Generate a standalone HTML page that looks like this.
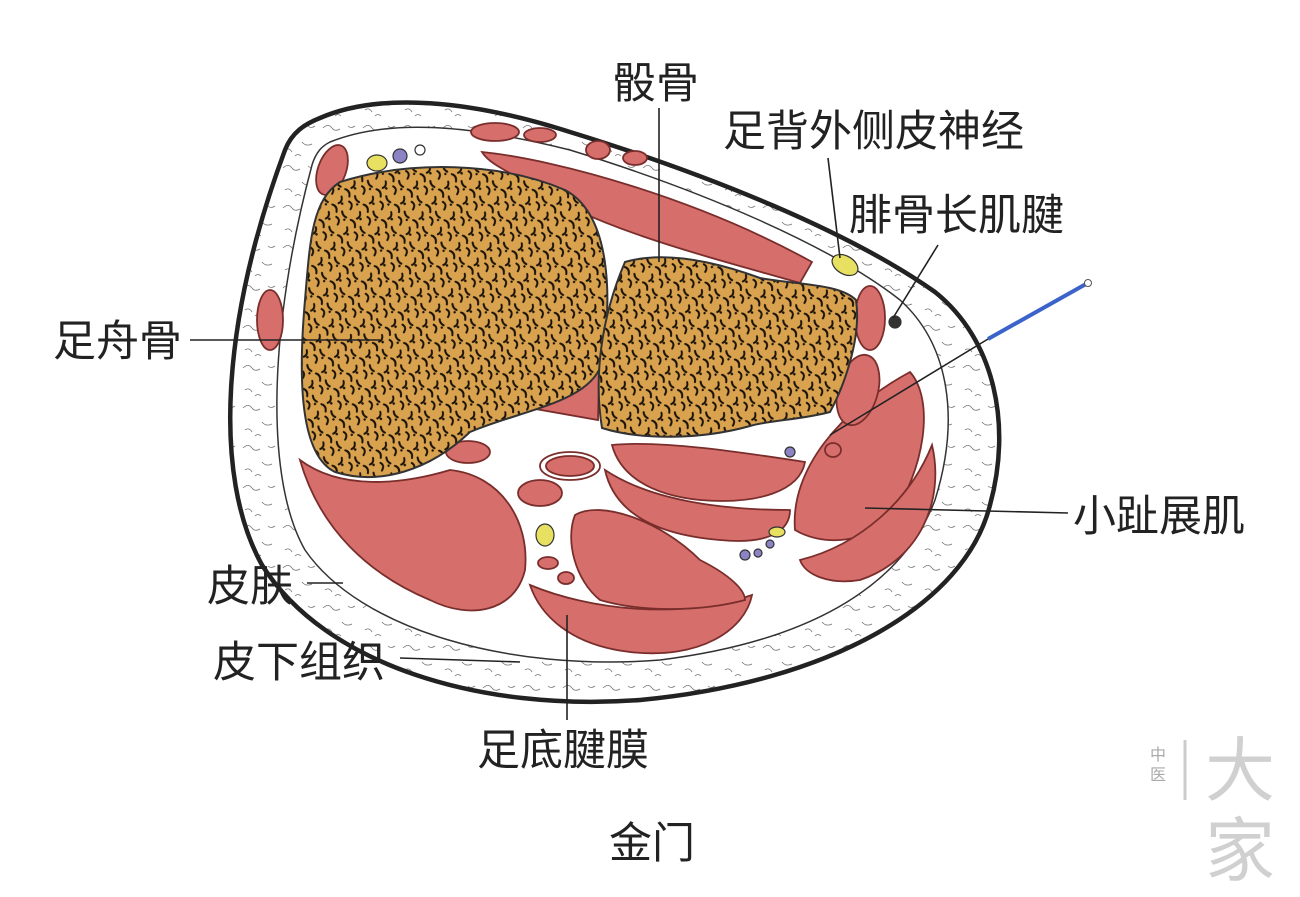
<!DOCTYPE html>
<html><head><meta charset="utf-8"><style>
html,body{margin:0;padding:0;background:#fff;}
svg{display:block}
text{font-family:"Liberation Sans","Noto Sans CJK SC",sans-serif;fill:#222;}
</style></head><body>
<svg width="1300" height="897" viewBox="0 0 1300 897" xmlns="http://www.w3.org/2000/svg">
<defs>
<pattern id="bone" width="24" height="20" patternUnits="userSpaceOnUse" patternTransform="rotate(40)">
<rect width="24" height="20" fill="#d9a24e"/>
<path d="M2,3 q5,-2 8,3 M14,2 q3,3 7,2 M4,11 q4,3 2,7 M13,10 q5,-1 6,5" stroke="#1a1208" stroke-width="2" fill="none" stroke-linecap="round"/>
<circle cx="9" cy="16" r="1.3" fill="#1a1208"/><circle cx="21" cy="7" r="1.2" fill="#1a1208"/>
</pattern>
<pattern id="fat" width="40" height="40" patternUnits="userSpaceOnUse">
<rect width="40" height="40" fill="#fff"/>
<path d="M3,8 q5,-5 9,0 q3,4 8,1 M22,22 q4,5 10,2 M5,30 q4,-3 7,2 M28,6 q3,3 7,0 M15,36 q3,-3 6,0" stroke="#777" stroke-width="0.8" fill="none"/>
</pattern>
</defs>

<path d="M320,118 C380,92 470,100 570,132 C710,175 850,232 935,292 C995,340 1012,425 990,505 C965,605 830,682 640,700 C480,712 325,665 262,565 C212,475 222,320 285,150 C292,132 305,124 320,118 Z" fill="url(#fat)" stroke="#222" stroke-width="4.5"/>
<path d="M330,142 C390,118 470,125 570,150 C700,190 830,245 900,300 C950,345 960,420 935,500 C905,580 820,640 660,660 C510,672 360,630 305,550 C265,480 268,330 312,165 C316,152 322,146 330,142 Z" fill="#fff" stroke="#333" stroke-width="1.5"/>

<g fill="#d66f6c" stroke="#7a2e2c" stroke-width="1.8">
<ellipse cx="270" cy="320" rx="13" ry="30"/>
<ellipse cx="332" cy="170" rx="14" ry="26" transform="rotate(20 332 170)"/>
<ellipse cx="495" cy="132" rx="24" ry="9"/>
<ellipse cx="540" cy="135" rx="16" ry="7"/>
<ellipse cx="598" cy="150" rx="12" ry="9"/>
<ellipse cx="635" cy="158" rx="12" ry="7"/>
<path d="M482,152 C560,160 700,200 812,262 L800,283 C720,260 600,230 540,190 C510,172 490,165 482,152 Z"/>
<path d="M300,460 C340,490 400,485 450,470 C500,475 530,520 525,570 C515,612 470,620 430,600 C370,575 320,530 300,460 Z"/>
<path d="M530,585 C590,610 680,620 752,595 C745,630 700,660 630,652 C570,645 540,615 530,585 Z"/>
<path d="M575,515 C600,500 660,520 700,560 C730,575 745,590 745,600 C700,612 640,612 600,600 C575,580 565,540 575,515 Z"/>
<path d="M612,445 C660,440 740,452 805,462 C800,490 760,505 700,500 C650,495 620,475 612,445 Z"/>
<path d="M605,470 C650,500 720,510 790,510 C790,530 770,545 720,540 C660,535 615,515 605,470 Z"/>
<path d="M530,408 L600,340 L598,420 Z"/>
<ellipse cx="468" cy="452" rx="22" ry="11"/>
<ellipse cx="570" cy="466" rx="30" ry="14" fill="#fff"/>
<ellipse cx="570" cy="466" rx="24" ry="10"/>
<ellipse cx="540" cy="493" rx="22" ry="13"/>
<path d="M795,530 C790,470 840,410 910,372 C935,400 925,470 890,520 C860,545 820,545 795,530 Z"/>
<path d="M800,560 C860,545 910,500 932,445 C945,500 920,560 860,580 C830,585 805,575 800,560 Z"/>
<ellipse cx="858" cy="390" rx="20" ry="36" transform="rotate(15 858 390)"/>
<ellipse cx="870" cy="318" rx="15" ry="32"/>
<ellipse cx="833" cy="450" rx="8" ry="7"/>
<ellipse cx="548" cy="563" rx="10" ry="6"/>
<ellipse cx="566" cy="578" rx="8" ry="6"/>
</g>

<path d="M340,182 C410,160 500,162 565,190 C612,215 612,300 602,362 C592,402 522,410 470,432 C430,470 380,486 335,472 C300,455 298,380 305,300 C310,240 312,200 340,182 Z" fill="url(#bone)" stroke="#333" stroke-width="2"/>
<path d="M625,262 C660,252 705,258 760,278 C800,285 840,284 856,300 C862,340 842,390 830,412 C800,420 770,420 750,426 C700,440 640,440 602,428 C594,380 600,320 625,262 Z" fill="url(#bone)" stroke="#333" stroke-width="2"/>

<g stroke="#333" stroke-width="1.2">
<ellipse cx="377" cy="163" rx="10" ry="8" fill="#e8e060"/>
<circle cx="400" cy="156" r="7" fill="#8b83c4"/>
<circle cx="420" cy="150" r="5" fill="#fff"/>
<ellipse cx="845" cy="265" rx="14" ry="9" fill="#e8e060" transform="rotate(30 845 265)"/>
<circle cx="895" cy="322" r="6" fill="#333"/>
<ellipse cx="545" cy="535" rx="9" ry="11" fill="#e8e060"/>
<ellipse cx="777" cy="532" rx="8" ry="5" fill="#e8e060"/>
<circle cx="745" cy="555" r="5" fill="#8b83c4"/>
<circle cx="758" cy="553" r="4" fill="#8b83c4"/>
<circle cx="770" cy="544" r="4" fill="#8b83c4"/>
<circle cx="790" cy="452" r="5" fill="#8b83c4"/>
</g>

<line x1="988" y1="339" x2="1086" y2="284" stroke="#3b63c9" stroke-width="4"/>
<circle cx="1088" cy="283" r="3.5" fill="#fff" stroke="#555" stroke-width="1"/>

<g stroke="#222" stroke-width="1.6" fill="none">
<line x1="659" y1="108" x2="659" y2="262"/>
<line x1="828" y1="158" x2="840" y2="258"/>
<line x1="938" y1="245" x2="893" y2="318"/>
<line x1="190" y1="340" x2="380" y2="340"/>
<line x1="988" y1="339" x2="830" y2="435"/>
<line x1="1068" y1="513" x2="865" y2="508"/>
<line x1="307" y1="583" x2="343" y2="583"/>
<line x1="400" y1="658" x2="520" y2="662"/>
<line x1="567" y1="720" x2="567" y2="615"/>
</g>

<g font-size="43">
<text x="613" y="98">骰骨</text>
<text x="723" y="146">足背外侧皮神经</text>
<text x="849" y="230">腓骨长肌腱</text>
<text x="53" y="356">足舟骨</text>
<text x="1073" y="531">小趾展肌</text>
<text x="207" y="601">皮肤</text>
<text x="213" y="677">皮下组织</text>
<text x="477" y="765">足底腱膜</text>
<text x="609" y="858">金门</text>
</g>
<g>
<text x="1150" y="760" font-size="16" style="fill:#aaa">中</text>
<text x="1150" y="780" font-size="16" style="fill:#aaa">医</text>
<line x1="1185" y1="740" x2="1185" y2="800" stroke="#ccc" stroke-width="3"/>
<text x="1205" y="795" font-size="70" style="fill:#d0d0d0">大</text>
<text x="1205" y="875" font-size="70" style="fill:#d0d0d0">家</text>
</g>
</svg>
</body></html>
